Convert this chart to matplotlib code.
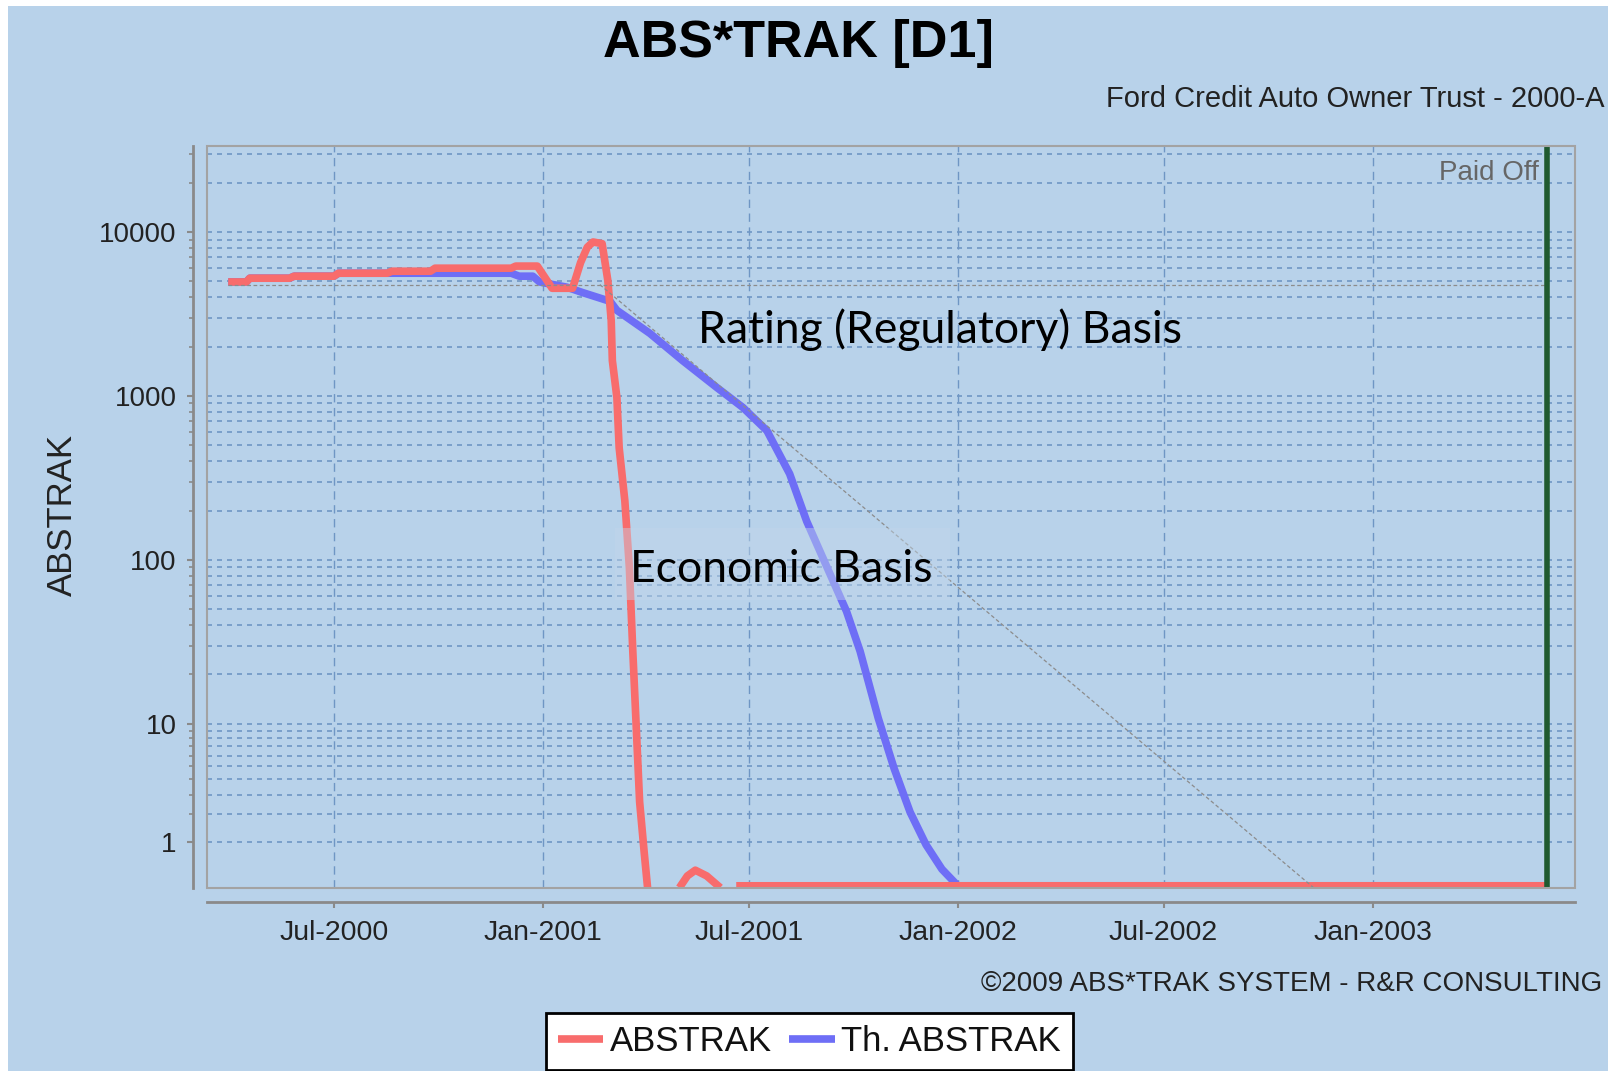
import numpy as np
import pandas as pd
import matplotlib
matplotlib.use("Agg")
import matplotlib.pyplot as plt
from matplotlib.patches import Rectangle
from matplotlib.ticker import FixedLocator, NullFormatter

# ABSTRAK (red)
red_dates = ["2000-03-30", "2000-04-15", "2000-04-18", "2000-05-23", "2000-05-27",
             "2000-07-01", "2000-07-05", "2000-08-17", "2000-08-21", "2000-09-24",
             "2000-09-28", "2000-12-04", "2000-12-08", "2000-12-27", "2001-01-09",
             "2001-01-27", "2001-02-03", "2001-02-09", "2001-02-14", "2001-02-22",
             "2001-02-27", "2001-03-02", "2001-03-03", "2001-03-07", "2001-03-09",
             "2001-03-14", "2001-03-18", "2001-03-21", "2001-03-23", "2001-03-25",
             "2001-03-27", "2001-03-31", "2001-04-03", "2001-04-20", "2001-05-01",
             "2001-05-08", "2001-05-15", "2001-05-25", "2001-06-06", "2001-06-13",
             "2001-06-20", "2003-06-03"]
red_values = [4960, 4960, 5230, 5230, 5380,
              5380, 5610, 5610, 5770, 5770,
              6020, 6020, 6200, 6200, 4540,
              4540, 6500, 8090, 8700, 8500,
              5080, 2890, 1645, 977, 483,
              229, 89, 27.7, 13.7, 6.4,
              2.6, 0.72, 0, np.nan, 0,
              0.2, 0.31, 0.2, 0, np.nan,
              0.03, 0.03]

# Th. ABSTRAK (blue)
blue_dates = ["2000-03-30", "2000-04-15", "2000-04-18", "2000-05-23", "2000-05-27",
              "2000-07-01", "2000-07-05", "2000-12-04", "2000-12-11", "2000-12-23",
              "2000-12-29", "2001-01-22", "2001-02-05", "2001-03-01", "2001-03-07",
              "2001-04-05", "2001-05-04", "2001-06-03", "2001-06-26", "2001-07-17",
              "2001-08-06", "2001-08-21", "2001-09-25", "2001-10-07", "2001-10-23",
              "2001-11-06", "2001-11-20", "2001-12-04", "2001-12-18", "2002-01-01",
              "2003-06-03"]
blue_values = [4960, 4960, 5230, 5230, 5380,
               5380, 5610, 5610, 5380, 5380,
               4960, 4610, 4270, 3780, 3330,
               2410, 1640, 1125, 849, 614,
               335, 172, 48.6, 27.7, 10.8,
               4.8, 2.1, 0.92, 0.33, 0.03,
               0.03]

# reference lines (rating basis)
flat_ref_dates = ["2000-03-30", "2003-06-03"]
flat_ref_values = [4780, 4780]
diag_ref_dates = ["2001-02-20", "2002-11-10"]
diag_ref_values = [4780, 0]

paid_off_date = "2003-06-03"

y_major = [1, 10, 100, 1000, 10000]
y_minor = [m * 10 ** k for k in range(0, 4) for m in range(2, 10)] + [20000, 30000]
x_ticks = ["2000-07-01", "2001-01-01", "2001-07-01", "2002-01-01", "2002-07-01", "2003-01-01"]
x_labels = ["Jul-2000", "Jan-2001", "Jul-2001", "Jan-2002", "Jul-2002", "Jan-2003"]

BG = "#b8d2ea"
RED = "#f86c6c"
BLUE = "#6e6ef6"
GRID = "#6f96c4"


def fwd(x):
    # JFreeChart style "adjusted" log10 (values under 10 are squeezed towards 0)
    x = np.asarray(x, dtype=float)
    with np.errstate(invalid="ignore", divide="ignore"):
        return np.where(x < 10, np.log10(0.9 * x + 1), np.log10(np.maximum(x, 1e-300)))


def inv(y):
    y = np.asarray(y, dtype=float)
    return np.where(y < 1, (10 ** y - 1) / 0.9, 10 ** y)


plt.rcParams["font.family"] = ["Liberation Sans", "DejaVu Sans"]

fig = plt.figure(figsize=(16.16, 10.71), dpi=100, facecolor="white")
fig.patches.append(Rectangle((8 / 1616, 0), 1600 / 1616, 1065 / 1071,
                             transform=fig.transFigure, facecolor=BG,
                             edgecolor="none", zorder=-10))

ax = fig.add_axes([206.6 / 1616, 1 - 887.7 / 1071, (1575 - 206.6) / 1616, (887.7 - 146) / 1071])
ax.set_facecolor(BG)
ax.set_yscale("function", functions=(fwd, inv))

rd = pd.to_datetime(red_dates)
bd = pd.to_datetime(blue_dates)

ax.plot(bd, blue_values, color=BLUE, lw=5.5, solid_joinstyle="round",
        solid_capstyle="butt", zorder=3, label="Th. ABSTRAK")
ax.plot(rd, red_values, color=RED, lw=5.5, solid_joinstyle="round",
        solid_capstyle="butt", zorder=4, label="ABSTRAK")

ax.plot(pd.to_datetime(flat_ref_dates), flat_ref_values, color="#8c8c8c", lw=0.9,
        ls=(0, (3, 2)), zorder=5)
ax.plot(pd.to_datetime(diag_ref_dates), diag_ref_values, color="#8c8c8c", lw=0.9,
        ls=(0, (3, 2)), zorder=5)

ax.axvline(pd.to_datetime(paid_off_date), color="#1f5a2f", lw=4, zorder=6)

ax.set_xlim(pd.to_datetime("2000-03-11"), pd.to_datetime("2003-06-28"))
ax.set_ylim(0, 33500)

ax.yaxis.set_major_locator(FixedLocator(y_major))
ax.yaxis.set_minor_locator(FixedLocator(y_minor))
ax.yaxis.set_minor_formatter(NullFormatter())
ax.set_yticklabels([str(v) for v in y_major])
ax.set_xticks(pd.to_datetime(x_ticks))
ax.set_xticklabels(x_labels)

ax.grid(True, which="both", axis="y", color=GRID, lw=1.2, ls=(0, (3, 3)))
ax.grid(True, which="major", axis="x", color=GRID, lw=1.0, ls=(0, (6, 4)))
ax.set_axisbelow(True)

for s in ["top", "right"]:
    ax.spines[s].set_visible(False)
ax.spines["left"].set_position(("outward", 9.5))
ax.spines["bottom"].set_position(("outward", 10))
for s in ["left", "bottom"]:
    ax.spines[s].set_color("#8a8a8a")
    ax.spines[s].set_linewidth(2)
ax.add_patch(Rectangle((0, 0), 1, 1, transform=ax.transAxes, fill=False,
                       edgecolor="#a3a3a3", lw=1.5, clip_on=False, zorder=7))

ax.tick_params(axis="both", which="both", color="#8a8a8a", labelcolor="#222222")
ax.tick_params(axis="y", which="major", length=4, width=1.5, pad=8, labelsize=20)
ax.tick_params(axis="y", which="minor", length=3, width=1.2)
ax.tick_params(axis="x", which="major", length=4.5, width=1.5, pad=9, labelsize=20.5)

fig.text(0.4938, 1 - 57 / 1071, "ABS*TRAK [D1]", ha="center", va="baseline",
         fontsize=37.5, fontweight="bold", color="black")
fig.text(1605 / 1616, 1 - 107 / 1071, "Ford Credit Auto Owner Trust - 2000-A",
         ha="right", va="baseline", fontsize=21, color="#222222")
fig.text(62 / 1616, 1 - 515 / 1071, "ABSTRAK", rotation=90, ha="center", va="center",
         fontsize=25, color="#222222")
fig.text(1539 / 1616, 1 - 180 / 1071, "Paid Off", ha="right", va="baseline",
         fontsize=20, color="#666666")
fig.text(1602 / 1616, 1 - 991 / 1071, "©2009 ABS*TRAK SYSTEM - R&R CONSULTING",
         ha="right", va="baseline", fontsize=20, color="#222222")

# overlay annotations
fig.patches.append(Rectangle((615 / 1616, 1 - 600 / 1071), 335 / 1616, 72 / 1071,
                             transform=fig.transFigure, facecolor="#c2d6ea",
                             alpha=0.45, edgecolor="none", zorder=5))
fig.text(940 / 1616, 1 - 330 / 1071, "Rating (Regulatory) Basis", ha="center",
         va="center", fontsize=32, family="Lato", color="black", zorder=8)
fig.text(781 / 1616, 1 - 570 / 1071, "Economic Basis", ha="center", va="center",
         fontsize=32, family="Lato", color="black", zorder=8)

handles, labels = ax.get_legend_handles_labels()
leg = fig.legend(handles[::-1], labels[::-1], loc="lower center",
                 bbox_to_anchor=(809.5 / 1616, 1 / 1071), ncol=2, fontsize=25,
                 frameon=True, fancybox=False, edgecolor="black", facecolor="white",
                 framealpha=1, handlelength=1.3, handletextpad=0.2,
                 columnspacing=0.5, borderpad=0.35, borderaxespad=0)
leg.get_frame().set_linewidth(2)
for t in leg.get_texts():
    t.set_color("#111111")

fig.savefig("out.png", dpi=100, facecolor=fig.get_facecolor())
